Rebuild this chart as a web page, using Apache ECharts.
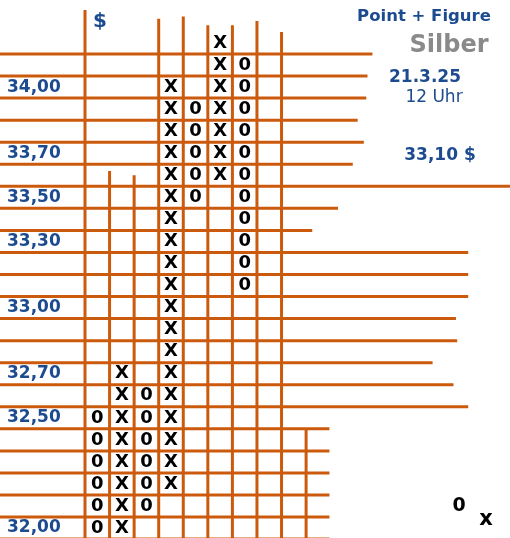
<!DOCTYPE html>
<html>
<head>
<meta charset="utf-8">
<title>Point + Figure Silber</title>
<script src="https://cdn.jsdelivr.net/npm/echarts@6.0.0/dist/echarts.min.js"></script>
<style>
html, body { margin: 0; padding: 0; background: #fff; }
#main { width: 510px; height: 538px; }
</style>
</head>
<body>
<div id="main"></div>
<script>
// Point & Figure Silber, Boxgroesse 0,10 $ - Spalten von links nach rechts
var colMarks = ['0', 'X', '0', 'X', '0', 'X', '0'];
var col1 = [32.5, 32.4, 32.3, 32.2, 32.1, 32.0, 31.9];
var col2 = [32.7, 32.6, 32.5, 32.4, 32.3, 32.2, 32.1, 32.0, 31.9];
var col3 = [32.6, 32.5, 32.4, 32.3, 32.2, 32.1];
var col4 = [34.0, 33.9, 33.8, 33.7, 33.6, 33.5, 33.4, 33.3, 33.2, 33.1, 33.0,
            32.9, 32.8, 32.7, 32.6, 32.5, 32.4, 32.3, 32.2];
var col5 = [33.9, 33.8, 33.7, 33.6, 33.5];
var col6 = [34.2, 34.1, 34.0, 33.9, 33.8, 33.7, 33.6];
var col7 = [34.1, 34.0, 33.9, 33.8, 33.7, 33.6, 33.5, 33.4, 33.3, 33.2, 33.1];
var columns = [col1, col2, col3, col4, col5, col6, col7];

// Preisskala links
var tickValues = [34.0, 33.7, 33.5, 33.3, 33.0, 32.7, 32.5, 32.0];
var tickLabels = ['34,00', '33,70', '33,50', '33,30', '33,00', '32,70', '32,50', '32,00'];

var lastPrice = '33,10 $';
var dateText = '21.3.25';
var timeText = '12 Uhr';

// ---- Layout (handgezeichnetes Gitter) ----
var X_MIN = -2.96, X_MAX = 17.8;
var Y_MIN = 31.955, Y_MAX = 34.395;
var lineColor = '#cc5a0c';
var blue = '#1d4b8f';

// waagrechte Linien: [Boxgrenze, rechtes Ende in Spalten]
var hLines = [
    [34.15, 12.2], [34.05, 12.0], [33.95, 11.95], [33.85, 11.6], [33.75, 11.85],
    [33.65, 11.4], [33.55, 17.8], [33.45, 10.8], [33.35, 9.75], [33.25, 16.1],
    [33.15, 16.1], [33.05, 16.1], [32.95, 15.6], [32.85, 15.65], [32.75, 14.65],
    [32.65, 15.5], [32.55, 16.1], [32.45, 10.45], [32.35, 10.45], [32.25, 10.45],
    [32.15, 10.45], [32.05, 10.45], [31.95, 10.45]
];
// senkrechte Linien: [Spaltengrenze, oberes Ende]
var vLines = [
    [0.5, 34.35], [1.5, 33.62], [2.5, 33.6], [3.5, 34.31], [4.5, 34.32],
    [5.5, 34.28], [6.5, 34.28], [7.5, 34.3], [8.5, 34.25], [9.5, 32.45]
];

var xData = [], oData = [];
columns.forEach(function (col, i) {
    col.forEach(function (p) {
        if (colMarks[i] === 'X') xData.push([i + 1, p]);
        else oData.push([i + 1, p]);
    });
});

function boxSeries(name, data, mark) {
    return {
        name: name,
        type: 'scatter',
        data: data,
        symbol: 'rect',
        symbolSize: [14, 17],
        itemStyle: { color: '#fff', opacity: 1 },
        silent: true,
        label: {
            show: true,
            position: 'inside',
            formatter: mark,
            color: '#000',
            textBorderWidth: 0,
            fontFamily: 'DejaVu Sans',
            fontWeight: 'bold',
            fontSize: 18
        }
    };
}

var myChart = echarts.init(document.getElementById('main'));

var option = {
    backgroundColor: '#fff',
    animation: false,
    grid: { left: 0, right: 0, top: 0, bottom: 0 },
    xAxis: { type: 'value', min: X_MIN, max: X_MAX, show: false },
    yAxis: {
        type: 'value',
        min: Y_MIN,
        max: Y_MAX,
        axisLine: { show: false },
        axisTick: { show: false },
        splitLine: { show: false },
        axisLabel: {
            inside: true,
            margin: 7,
            customValues: tickValues,
            color: blue,
            fontFamily: 'DejaVu Sans',
            fontWeight: 'bold',
            fontSize: 17,
            formatter: function (v) {
                var best = 0;
                for (var i = 0; i < tickValues.length; i++) {
                    if (Math.abs(tickValues[i] - v) < Math.abs(tickValues[best] - v)) best = i;
                }
                return tickLabels[best];
            }
        }
    },
    graphic: [
        { type: 'text', x: 100, y: 22, style: { text: '$', fill: blue, font: 'bold 20px "DejaVu Sans"', align: 'center', verticalAlign: 'middle' } },
        { type: 'text', x: 424, y: 17, style: { text: 'Point + Figure', fill: blue, font: 'bold 16.5px "DejaVu Sans"', align: 'center', verticalAlign: 'middle' } },
        { type: 'text', x: 449, y: 46, style: { text: 'Silber', fill: '#8a8a8a', font: 'bold 24px "DejaVu Sans"', align: 'center', verticalAlign: 'middle' } },
        { type: 'text', x: 425, y: 78, style: { text: dateText, fill: blue, font: 'bold 17px "DejaVu Sans"', align: 'center', verticalAlign: 'middle' } },
        { type: 'text', x: 434, y: 98, style: { text: timeText, fill: blue, font: '17px "DejaVu Sans"', align: 'center', verticalAlign: 'middle' } },
        { type: 'text', x: 440, y: 156, style: { text: lastPrice, fill: blue, font: 'bold 17px "DejaVu Sans"', align: 'center', verticalAlign: 'middle' } },
        { type: 'text', x: 459, y: 506, style: { text: '0', fill: '#000', font: 'bold 19px "DejaVu Sans"', align: 'center', verticalAlign: 'middle' } },
        { type: 'text', x: 486, y: 520, style: { text: 'x', fill: '#000', font: 'bold 21px "DejaVu Sans"', align: 'center', verticalAlign: 'middle' } }
    ],
    series: [
        {
            type: 'custom',
            silent: true,
            data: hLines,
            renderItem: function (params, api) {
                var a = api.coord([X_MIN, api.value(0)]);
                var b = api.coord([api.value(1), api.value(0)]);
                return {
                    type: 'line',
                    shape: { x1: a[0], y1: a[1], x2: b[0], y2: b[1] },
                    style: { stroke: lineColor, lineWidth: 3 }
                };
            },
            encode: { x: 1, y: 0 }
        },
        {
            type: 'custom',
            silent: true,
            data: vLines,
            renderItem: function (params, api) {
                var a = api.coord([api.value(0), api.value(1)]);
                var b = api.coord([api.value(0), Y_MIN]);
                return {
                    type: 'line',
                    shape: { x1: a[0], y1: a[1], x2: b[0], y2: b[1] },
                    style: { stroke: lineColor, lineWidth: 3 }
                };
            }
        },
        boxSeries('X', xData, 'X'),
        boxSeries('0', oData, '0')
    ]
};

myChart.setOption(option);
</script>
</body>
</html>
